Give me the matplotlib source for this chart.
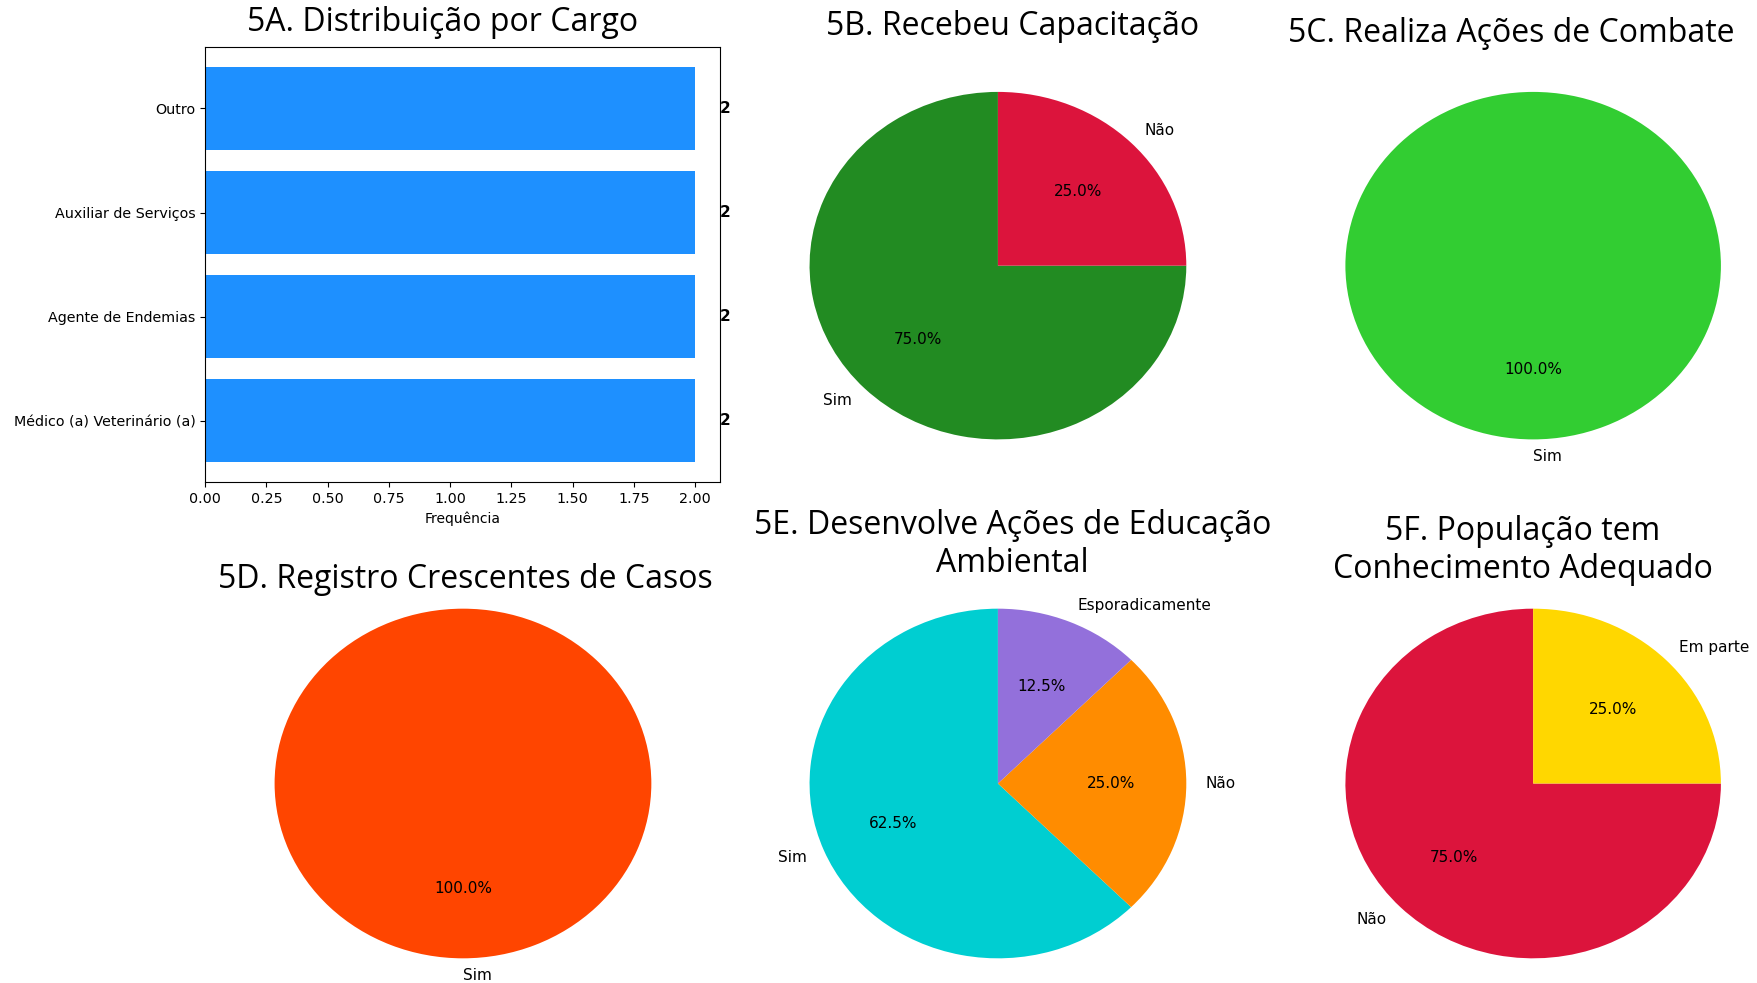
import matplotlib
matplotlib.use("Agg")
import matplotlib.pyplot as plt

# dados
cargos = ["Médico (a) Veterinário (a)", "Agente de Endemias", "Auxiliar de Serviços", "Outro"]
freq_cargo = [2, 2, 2, 2]

cap_labels = ["Sim", "Não"]
cap_values = [6, 2]

combate_labels = ["Sim"]
combate_values = [8]

casos_labels = ["Sim"]
casos_values = [8]

educ_labels = ["Sim", "Não", "Esporadicamente"]
educ_values = [5, 2, 1]

conhec_labels = ["Não", "Em parte"]
conhec_values = [6, 2]

title_font = "Open Sans"
title_size = 23

fig = plt.figure(figsize=(17.58, 9.83), dpi=100)

# 5A - barras horizontais
ax1 = fig.add_axes([0.1167, 0.5097, 0.2927, 0.4424])
ax1.barh(cargos, freq_cargo, color="dodgerblue")
for i, v in enumerate(freq_cargo):
    ax1.text(v + 0.1, i, str(v), va="center", ha="left", fontsize=11, fontweight="bold")
ax1.set_xlabel("Frequência", fontsize=10)
ax1.tick_params(labelsize=10.3)
ax1.set_xticks([0, 0.25, 0.5, 0.75, 1.0, 1.25, 1.5, 1.75, 2.0])
fig.text(0.2519, 0.9772, "5A. Distribuição por Cargo", ha="center", va="center",
         fontsize=title_size, family=title_font)


def pizza(rect, values, labels, colors, title, tx, ty):
    ax = fig.add_axes(rect)
    ax.pie(values, labels=labels, colors=colors, autopct="%1.1f%%", startangle=90,
           textprops={"fontsize": 11})
    ax.set_aspect("auto")
    ax.set_xlim(-1, 1)
    ax.set_ylim(-1, 1)
    fig.text(tx, ty, title, ha="center", va="center", fontsize=title_size,
             family=title_font, linespacing=1.2)
    return ax


pizza([0.4605, 0.5530, 0.2143, 0.3535], cap_values, cap_labels,
      ["forestgreen", "crimson"], "5B. Recebeu Capacitação", 0.5759, 0.9726)
pizza([0.7653, 0.5530, 0.2136, 0.3535], combate_values, combate_labels,
      ["limegreen"], "5C. Realiza Ações de Combate", 0.8597, 0.9658)
pizza([0.1562, 0.0251, 0.2143, 0.3557], casos_values, casos_labels,
      ["orangered"], "5D. Registro Crescentes de Casos", 0.2647, 0.4105)
pizza([0.4605, 0.0251, 0.2143, 0.3557], educ_values, educ_labels,
      ["darkturquoise", "darkorange", "mediumpurple"],
      "5E. Desenvolve Ações de Educação\nAmbiental", 0.5759, 0.4458)
pizza([0.7653, 0.0251, 0.2136, 0.3557], conhec_values, conhec_labels,
      ["crimson", "gold"], "5F. População tem\nConhecimento Adequado", 0.8661, 0.4401)

fig.savefig("out.png", dpi=100)
